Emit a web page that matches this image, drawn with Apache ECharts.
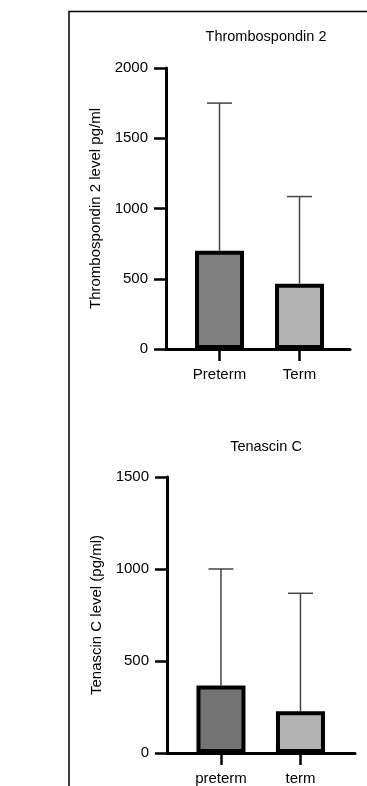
<!DOCTYPE html>
<html>
<head>
<meta charset="utf-8">
<script src="https://cdn.jsdelivr.net/npm/echarts@6/dist/echarts.min.js"></script>
<style>
html,body{margin:0;padding:0;background:#fff;}
#c{width:367px;height:786px;}
</style>
</head>
<body>
<div id="c"></div>
<script>
// Data
const categories1 = ['Preterm', 'Term'];
const means1 = [700, 465];
const upper1 = [1750, 1085];
const yTicks1 = [0, 500, 1000, 1500, 2000];

const categories2 = ['preterm', 'term'];
const means2 = [367, 227];
const upper2 = [1000, 868];
const yTicks2 = [0, 500, 1000, 1500];

const title1 = 'Thrombospondin 2';
const title2 = 'Tenascin C';
const yName1 = 'Thrombospondin 2 level pg/ml';
const yName2 = 'Tenascin C level (pg/ml)';

const fillColors1 = ['#808080', '#b3b3b3'];
const fillColors2 = ['#737373', '#b3b3b3'];

const FONT = '"Liberation Sans", Arial, Helvetica, sans-serif';
const chart = echarts.init(document.getElementById('c'));

function xAxisFor(gridIndex, cats, min, max) {
  return {
    type: 'value', gridIndex: gridIndex, min: min, max: max,
    splitLine: {show: false},
    axisLine: {show: true, onZero: false, lineStyle: {color: '#000', width: 3}},
    axisTick: {show: true, customValues: cats.map((c, i) => i), length: 12, lineStyle: {color: '#000', width: 2.5}},
    axisLabel: {show: true, customValues: cats.map((c, i) => i), margin: 18, fontSize: 15, color: '#000', fontFamily: FONT,
      formatter: v => cats[Math.round(v)] }
  };
}
function yAxisFor(gridIndex, ticks, name) {
  return {
    type: 'value', gridIndex: gridIndex, min: ticks[0], max: ticks[ticks.length - 1], interval: ticks[1] - ticks[0],
    name: name, nameLocation: 'middle', nameGap: 55,
    nameTextStyle: {fontSize: 15, color: '#000', fontFamily: FONT},
    splitLine: {show: false},
    axisLine: {show: true, onZero: false, lineStyle: {color: '#000', width: 3}},
    axisTick: {show: true, length: 12, lineStyle: {color: '#000', width: 2.5}},
    axisLabel: {margin: 18, fontSize: 15, color: '#000', fontFamily: FONT, formatter: v => String(v)}
  };
}
function barSeries(idx, means, colors) {
  return {
    type: 'bar', xAxisIndex: idx, yAxisIndex: idx, barWidth: 49,
    data: means.map((m, i) => ({value: [i, m], itemStyle: {color: colors[i]}})),
    itemStyle: {borderColor: '#000', borderWidth: 4},
    z: 2
  };
}
function errSeries(idx, means, upper) {
  return {
    type: 'custom', xAxisIndex: idx, yAxisIndex: idx, z: 1,
    data: means.map((m, i) => [i, m, upper[i]]),
    renderItem: function (params, api) {
      const x = api.value(0);
      const p0 = api.coord([x, api.value(1)]);
      const p1 = api.coord([x, api.value(2)]);
      const hw = 12.5;
      return {
        type: 'group',
        children: [
          {type: 'line', shape: {x1: p0[0], y1: p0[1], x2: p1[0], y2: p1[1]}, style: {stroke: '#444', lineWidth: 1.5}},
          {type: 'line', shape: {x1: p1[0] - hw, y1: p1[1], x2: p1[0] + hw, y2: p1[1]}, style: {stroke: '#444', lineWidth: 1.5}}
        ]
      };
    }
  };
}

chart.setOption({
  animation: false,
  backgroundColor: '#fff',
  graphic: [{
    type: 'rect', left: 66.5, top: 9,
    shape: {x: 0, y: 0, width: 400, height: 800},
    style: {fill: 'none', stroke: '#000', lineWidth: 1.5}, z: 0
  }],
  title: [
    {text: title1, left: 261, top: 24, textAlign: 'center',
      textStyle: {fontSize: 14.5, fontWeight: 'normal', color: '#000', fontFamily: FONT}},
    {text: title2, left: 261, top: 434, textAlign: 'center',
      textStyle: {fontSize: 14.5, fontWeight: 'normal', color: '#000', fontFamily: FONT}}
  ],
  grid: [
    {left: 166, right: 17, top: 68, height: 281},
    {left: 167, right: 12, top: 477, height: 278}
  ],
  xAxis: [
    xAxisFor(0, categories1, -0.669, 1.631),
    xAxisFor(1, categories2, -0.679, 1.686)
  ],
  yAxis: [
    yAxisFor(0, yTicks1, yName1),
    yAxisFor(1, yTicks2, yName2)
  ],
  series: [
    errSeries(0, means1, upper1),
    barSeries(0, means1, fillColors1),
    errSeries(1, means2, upper2),
    barSeries(1, means2, fillColors2)
  ]
});
</script>
</body>
</html>
